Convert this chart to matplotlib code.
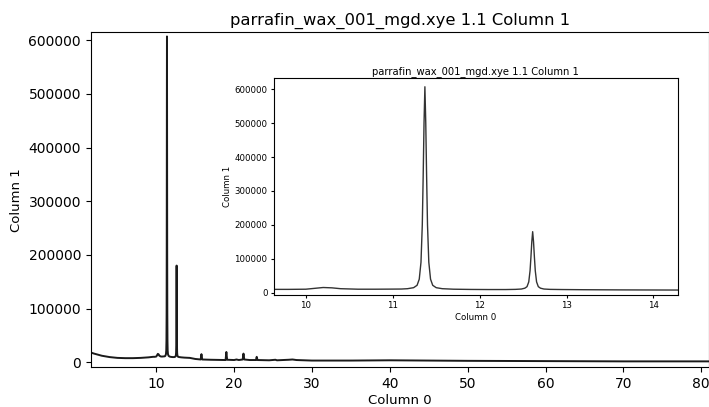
import matplotlib.pyplot as plt

# diffraction pattern (2theta vs counts)
col0 = [1.58, 2.0, 2.5, 3.0, 4.0, 5.0, 6.0, 7.0, 8.0, 9.0, 9.6,
        9.8, 10.0, 10.1, 10.2, 10.3, 10.4, 10.6, 10.8, 11.0, 11.1,
        11.17, 11.24, 11.28, 11.305, 11.325, 11.34, 11.35, 11.36, 11.37,
        11.38, 11.39, 11.40, 11.415, 11.435, 11.46, 11.5, 11.57, 11.7,
        11.9, 12.1, 12.3, 12.41, 12.48, 12.52, 12.545, 12.565, 12.58, 12.59, 12.60,
        12.61, 12.62, 12.63, 12.64, 12.655, 12.675, 12.70, 12.74, 12.81, 12.95,
        13.2, 13.6, 14.0, 14.3,
        15.0, 15.7, 15.8, 15.9, 17.0, 18.9, 19.0, 19.1, 20.0, 20.3, 20.6,
        21.1, 21.2, 21.3, 22.0, 22.8, 22.9, 23.0, 24.5, 25.3, 25.5, 27.0,
        27.5, 28.0, 30.0, 35.0, 40.0, 50.0, 60.0, 70.0, 81.0]
col1 = [18000, 16000, 14000, 12000, 9500, 8000, 7500, 7500, 8000, 9000, 10000,
        10000, 10500, 13000, 15500, 14500, 12000, 10500, 10500, 10800, 11000,
        12000, 15000, 22000, 40000, 90000, 200000, 340000, 500000, 607000,
        500000, 340000, 200000, 90000, 40000, 22000, 15000, 12000, 10500,
        9800, 9500, 9500, 10000, 11000, 13500, 18000, 32000, 65000, 105000, 150000,
        180000, 150000, 105000, 65000, 32000, 18000, 13500, 11000, 10000, 9500,
        9000, 8500, 8200, 8000,
        6000, 5000, 15000, 5000, 4500, 4000, 19000, 4500, 4000, 5000, 4000,
        5000, 16000, 5000, 4000, 4000, 10000, 4000, 3500, 4500, 3500, 4500,
        5000, 4000, 3000, 3000, 3500, 2500, 2000, 1500, 1500]

title = "parrafin_wax_001_mgd.xye 1.1 Column 1"

fig = plt.figure(figsize=(7.09, 4.07), dpi=100)

ax = fig.add_axes([0.128, 0.098, 0.872, 0.823])
ax.plot(col0, col1, color='#1a1a1a', lw=1.4)
ax.set_xlim(1.58, 81.0)
ax.set_ylim(-9200, 615000)
ax.set_xticks([10, 20, 30, 40, 50, 60, 70, 80])
ax.set_title(title, fontsize=11.8, pad=5)
ax.set_xlabel('Column 0', fontsize=9.5, labelpad=2.5)
ax.set_ylabel('Column 1', fontsize=9.5)
ax.tick_params(labelsize=10)

ins = fig.add_axes([0.386, 0.275, 0.570, 0.533])
ins.plot(col0, col1, color='#333333', lw=1.0)
ins.set_xlim(9.63, 14.28)
ins.set_ylim(-6800, 632400)
ins.set_xticks([10, 11, 12, 13, 14])
ins.set_title(title, fontsize=7.2, pad=3)
ins.set_xlabel('Column 0', fontsize=6.2, labelpad=2)
ins.set_ylabel('Column 1', fontsize=6.2, labelpad=2)
ins.tick_params(labelsize=6.2, length=2.5, pad=2)

fig.savefig('out.png', dpi=100)
